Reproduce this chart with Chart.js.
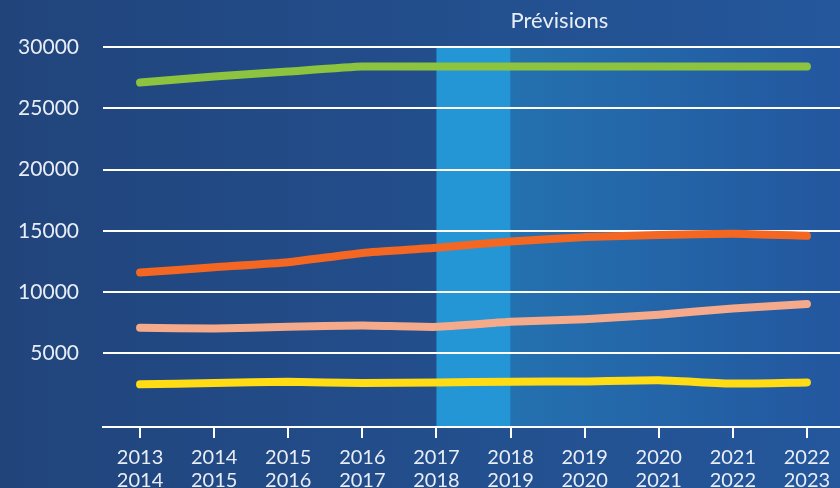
<!DOCTYPE html>
<html>
<head>
<meta charset="utf-8">
<script src="https://cdn.jsdelivr.net/npm/chart.js@4.4.0/dist/chart.umd.min.js"></script>
<style>
  html, body { margin: 0; padding: 0; }
  body {
    width: 840px; height: 488px; overflow: hidden;
    background: linear-gradient(90deg, #21447b 0%, #23508f 60%, #24579c 100%);
  }
  #wrap { position: relative; width: 844px; height: 488px; }
</style>
</head>
<body>
<div id="wrap"><canvas id="chart"></canvas></div>
<script>
/* ── Data ─────────────────────────────────────────────────────── */
const SEASONS = [
    ["2013", "2014"], ["2014", "2015"], ["2015", "2016"], ["2016", "2017"], ["2017", "2018"],
    ["2018", "2019"], ["2019", "2020"], ["2020", "2021"], ["2021", "2022"], ["2022", "2023"],
];
const GREEN  = [27100, 27600, 28000, 28400, 28400, 28400, 28400, 28400, 28400, 28400];
const ORANGE = [11600, 12030, 12440, 13200, 13620, 14140, 14490, 14660, 14770, 14600];
const SALMON = [7090, 7030, 7170, 7280, 7170, 7580, 7800, 8160, 8670, 9030];
const YELLOW = [2480, 2580, 2690, 2580, 2640, 2690, 2720, 2820, 2540, 2640];
const Y_TICKS = [5000, 10000, 15000, 20000, 25000, 30000];

const BAND_FROM = 4;        // index where the highlighted season starts
const FORECAST_FROM = 5;    // index where forecasts start
const FORECAST_LABEL = "Prévisions";

const FONT = "Lato, 'Open Sans', sans-serif";
const TEXT = "#e9eef6";

/* ── Background band + forecast zone, drawn under the grid ───── */
const zonesPlugin = {
    id: "zones",
    beforeDraw(chart) {
        const { ctx, chartArea: a, scales: { x } } = chart;
        const x0 = x.getPixelForValue(BAND_FROM);
        const x1 = x.getPixelForValue(FORECAST_FROM);
        ctx.save();
        const g = ctx.createLinearGradient(x1, 0, a.right, 0);
        g.addColorStop(0, "#2471b0");
        g.addColorStop(1, "#23569e");
        ctx.fillStyle = g;
        ctx.fillRect(x1, a.top, a.right - x1, a.bottom - a.top);
        ctx.fillStyle = "#2596d5";
        ctx.fillRect(x0, a.top, x1 - x0, a.bottom - a.top);

        ctx.fillStyle = TEXT;
        ctx.font = "22px " + FONT;
        ctx.textAlign = "left";
        ctx.textBaseline = "middle";
        ctx.fillText(FORECAST_LABEL, x1, 21);
        ctx.restore();
    }
};

function line(data, color) {
    return {
        data,
        borderColor: color,
        backgroundColor: color,
        borderWidth: 8,
        borderCapStyle: "round",
        borderJoinStyle: "round",
        pointRadius: 0,
        tension: 0.15,
        fill: false,
    };
}

new Chart(document.getElementById("chart"), {
    type: "line",
    data: {
        labels: SEASONS,
        datasets: [
            line(GREEN, "#8cc43f"),
            line(ORANGE, "#f36723"),
            line(SALMON, "#f6aa8c"),
            line(YELLOW, "#ffdc14"),
        ]
    },
    options: {
        responsive: true,
        maintainAspectRatio: false,
        animation: false,
        layout: { padding: { top: 47, right: 0, bottom: 0, left: 0 } },
        plugins: { legend: { display: false }, tooltip: { enabled: false } },
        scales: {
            x: {
                offset: true,
                grid: {
                    offset: false, drawOnChartArea: false, drawTicks: true,
                    tickLength: 11, color: "#ffffff", lineWidth: 2,
                },
                border: { display: true, color: "#ffffff", width: 2 },
                ticks: {
                    color: TEXT, padding: 8, maxRotation: 0, autoSkip: false,
                    font: { family: FONT, size: 20, lineHeight: 1.15 },
                },
                afterFit: s => { s.height = 61; },
            },
            y: {
                min: -1000,
                max: 30000,
                afterBuildTicks: s => { s.ticks = Y_TICKS.map(v => ({ value: v })); },
                grid: { color: "#ffffff", lineWidth: 2, drawTicks: false },
                border: { display: false },
                ticks: {
                    color: TEXT, padding: 24,
                    font: { family: FONT, size: 21 },
                    callback: v => String(v),
                },
                afterFit: s => { s.width = 103; },
            }
        }
    },
    plugins: [zonesPlugin]
});
</script>
</body>
</html>
